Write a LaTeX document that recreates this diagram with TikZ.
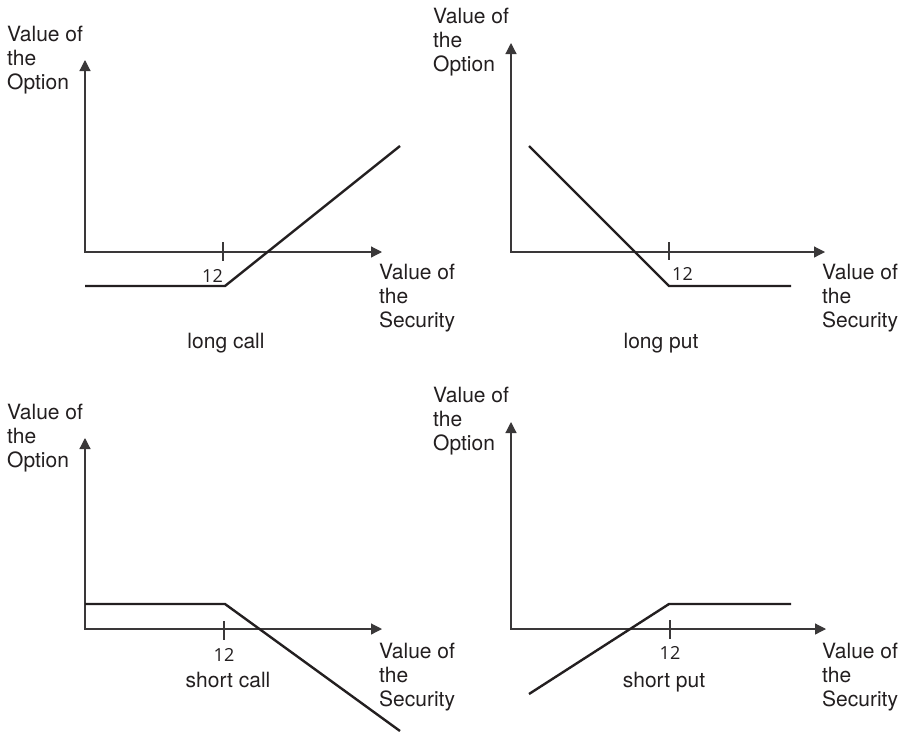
\documentclass[tikz,border=0pt]{standalone}
\usepackage{fontspec}
\setmainfont{TeX Gyre Heros}
\newfontfamily\numfont{Open Sans}
\usetikzlibrary{arrows.meta}
\definecolor{ink}{HTML}{231F20}
\definecolor{axiscol}{HTML}{3A3839}
\tikzset{
  axisline/.style={draw=axiscol, line width=1.2pt, {Triangle[length=11pt,width=11pt]}-{Triangle[length=11pt,width=11pt]}},
  tickline/.style={draw=axiscol, line width=1.2pt},
  payoff/.style={draw=ink, line width=2.4pt, line join=miter},
  lab/.style={font=\fontsize{21}{24}\selectfont, align=left, inner sep=0pt, anchor=north west, text=ink},
  caplab/.style={font=\fontsize{21}{24}\selectfont, inner sep=0pt, anchor=base, text=ink},
  numlab/.style={font=\numfont\fontsize{18}{20}\selectfont, inner sep=0pt, text=ink}
}
\begin{document}
\begin{tikzpicture}[x=1pt,y=-1pt]
\useasboundingbox[fill=white] (0,0) rectangle (901,731);

% ---------- long call ----------
\coordinate (o1) at (85,252);
\coordinate (yt1) at (85,60);
\coordinate (xt1) at (382,252);
\coordinate (ta1) at (223,242);
\coordinate (tb1) at (223,261);
\coordinate (p1a) at (85,286);
\coordinate (p1b) at (225,286);
\coordinate (p1c) at (400,146);
\draw[axisline] (yt1) -- (o1) -- (xt1);
\draw[tickline] (ta1) -- (tb1);
\draw[payoff] (p1a) -- (p1b) -- (p1c);
\node[lab] (ylab1) at (7,25.9) {Value of\\the\\Option};
\node[lab] (xlab1) at (379,263.9) {Value of\\the\\Security};
\node[numlab, anchor=base east] (num1) at (223,282) {12};
\node[caplab] (cap1) at (226,348) {long call};

% ---------- long put ----------
\coordinate (o2) at (511,252);
\coordinate (yt2) at (511,43);
\coordinate (xt2) at (825,252);
\coordinate (ta2) at (669,242);
\coordinate (tb2) at (669,260);
\coordinate (p2a) at (529,146);
\coordinate (p2b) at (669,286);
\coordinate (p2c) at (791,286);
\draw[axisline] (yt2) -- (o2) -- (xt2);
\draw[tickline] (ta2) -- (tb2);
\draw[payoff] (p2a) -- (p2b) -- (p2c);
\node[lab] (ylab2) at (433,7.9) {Value of\\the\\Option};
\node[lab] (xlab2) at (822,263.9) {Value of\\the\\Security};
\node[numlab, anchor=base west] (num2) at (672,280) {12};
\node[caplab] (cap2) at (661,348) {long put};

% ---------- short call ----------
\coordinate (o3) at (85,629);
\coordinate (yt3) at (85,438);
\coordinate (xt3) at (382,629);
\coordinate (ta3) at (224,621);
\coordinate (tb3) at (224,640);
\coordinate (p3a) at (85,604);
\coordinate (p3b) at (225,604);
\coordinate (p3c) at (400,731);
\draw[axisline] (yt3) -- (o3) -- (xt3);
\draw[tickline] (ta3) -- (tb3);
\draw[payoff] (p3a) -- (p3b) -- (p3c);
\node[lab] (ylab3) at (7,403.9) {Value of\\the\\Option};
\node[lab] (xlab3) at (379,642.9) {Value of\\the\\Security};
\node[numlab, anchor=base] (num3) at (224,661) {12};
\node[caplab] (cap3) at (228,687) {short call};

% ---------- short put ----------
\coordinate (o4) at (511,629);
\coordinate (yt4) at (511,422);
\coordinate (xt4) at (826,629);
\coordinate (ta4) at (670,620);
\coordinate (tb4) at (670,639);
\coordinate (p4a) at (529,694);
\coordinate (p4b) at (669,604);
\coordinate (p4c) at (791,604);
\draw[axisline] (yt4) -- (o4) -- (xt4);
\draw[tickline] (ta4) -- (tb4);
\draw[payoff] (p4a) -- (p4b) -- (p4c);
\node[lab] (ylab4) at (433,386.9) {Value of\\the\\Option};
\node[lab] (xlab4) at (822,642.9) {Value of\\the\\Security};
\node[numlab, anchor=base] (num4) at (670,659) {12};
\node[caplab] (cap4) at (664,687) {short put};
\end{tikzpicture}
\end{document}
